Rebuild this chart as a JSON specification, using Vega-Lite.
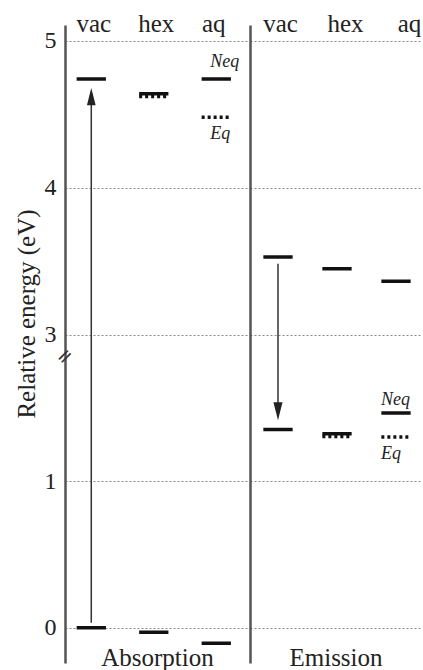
{
  "$schema": "https://vega.github.io/schema/vega-lite/v6.json",
  "autosize": {"type": "pad"},
  "padding": {"left": 14, "top": 11, "right": 0, "bottom": 0},
  "background": "white",
  "spacing": 0,
  "bounds": "flush",
  "config": {
    "view": {"stroke": null},
    "font": "Liberation Serif",
    "axis": {"labelFont": "Liberation Serif", "titleFont": "Liberation Serif", "labelColor": "#222", "titleColor": "#222"}
  },
  "datasets": {
    "levels": [
      {"panel": "Absorption", "env": "vac", "state": "single", "energy": 0},
      {"panel": "Absorption", "env": "vac", "state": "single", "energy": 4.74},
      {"panel": "Absorption", "env": "hex", "state": "single", "energy": -0.03},
      {"panel": "Absorption", "env": "hex", "state": "Neq", "energy": 4.64},
      {"panel": "Absorption", "env": "hex", "state": "Eq", "energy": 4.62},
      {"panel": "Absorption", "env": "aq", "state": "single", "energy": -0.105},
      {"panel": "Absorption", "env": "aq", "state": "Neq", "energy": 4.74},
      {"panel": "Absorption", "env": "aq", "state": "Eq", "energy": 4.48},
      {"panel": "Emission", "env": "vac", "state": "single", "energy": 3.528},
      {"panel": "Emission", "env": "vac", "state": "single", "energy": 1.354},
      {"panel": "Emission", "env": "hex", "state": "single", "energy": 3.449},
      {"panel": "Emission", "env": "hex", "state": "Neq", "energy": 1.324},
      {"panel": "Emission", "env": "hex", "state": "Eq", "energy": 1.305},
      {"panel": "Emission", "env": "aq", "state": "single", "energy": 3.364},
      {"panel": "Emission", "env": "aq", "state": "Neq", "energy": 1.466},
      {"panel": "Emission", "env": "aq", "state": "Eq", "energy": 1.302}
    ],
    "arrows": [
      {"panel": "Absorption", "env": "vac", "start": 0.035, "end": 4.575, "head": 4.62, "dir": "up"},
      {"panel": "Emission", "env": "vac", "start": 3.483, "end": 1.525, "head": 1.478, "dir": "down"}
    ],
    "breaks": [
      {"panel": "Absorption", "env": "vac", "energy": 2.35}
    ]
  },
  "hconcat": [
    {
      "width": 185,
      "height": 638,
      "title": {"text": "Absorption", "orient": "bottom", "anchor": "middle", "frame": "group", "font": "Liberation Serif", "fontSize": 25, "fontWeight": "normal", "baseline": "alphabetic", "offset": 3, "color": "#222"},
      "encoding": {
        "x": {
          "field": "env", "type": "nominal", "sort": ["vac", "hex", "aq"],
          "scale": {"type": "point", "domain": ["vac", "hex", "aq"], "padding": 0.48, "align": 0.438},
          "axis": {"orient": "top", "title": null, "domain": false, "ticks": false, "tickSize": 0, "grid": false, "labelAngle": 0, "labelFontSize": 25, "labelPadding": -6, "labelBaseline": "alphabetic",
            "labelOffset": {"condition": [{"test": "datum.value === 'aq'", "value": -3}], "value": 2}}
        },
        "y": {"field": "energy", "type": "quantitative",
          "scale": {"type": "linear", "domain": [-0.24, 1.85, 2.85, 5.107], "range": [638, 331.7, 331.7, 0], "zero": false, "nice": false},
          "axis": {"values": [0, 1, 3, 4, 5], "title": "Relative energy (eV)", "titleFontSize": 25, "titleFontWeight": "normal", "titleX": -39, "titleY": 288.5, "titleAngle": -90, "titleAlign": "center", "titleBaseline": "middle",
            "labelFontSize": 24, "labelPadding": 9, "ticks": false, "tickSize": 0, "domainColor": "#555", "domainWidth": 2.5,
            "grid": true, "gridDash": [2, 2], "gridColor": "#888", "gridWidth": 1}}
      },
      "layer": [
        {
          "data": {"name": "levels"},
          "transform": [{"filter": "datum.panel === 'Absorption'"}],
          "mark": {"type": "point", "shape": "M-1,0L1,0", "size": 858, "filled": false, "stroke": "#111", "strokeWidth": 3.5, "strokeCap": "butt", "opacity": 1},
          "encoding": {
            "strokeDash": {"field": "state", "type": "nominal", "scale": {"domain": ["single", "Neq", "Eq"], "range": [[1, 0], [1, 0], [3, 3]]}, "legend": null}
          }
        },
        {
          "data": {"name": "arrows"},
          "transform": [{"filter": "datum.panel === 'Absorption'"}, {"calculate": "datum.start", "as": "energy"}],
          "mark": {"type": "rule", "stroke": "#333", "strokeWidth": 1.5},
          "encoding": {
            "y2": {"field": "end"}
          }
        },
        {
          "data": {"name": "arrows"},
          "transform": [{"filter": "datum.panel === 'Absorption'"}, {"calculate": "datum.head", "as": "energy"}],
          "mark": {"type": "point", "filled": true, "color": "#222", "size": 300, "opacity": 1},
          "encoding": {
            "shape": {"field": "dir", "type": "nominal", "scale": {"domain": ["up", "down"], "range": ["M0,-1L0.5,1L-0.5,1Z", "M0,1L0.5,-1L-0.5,-1Z"]}, "legend": null}
          }
        },
        {
          "data": {"name": "levels"},
          "transform": [{"filter": "datum.panel === 'Absorption' && datum.env === 'aq' && datum.state === 'Neq'"}],
          "mark": {"type": "text", "align": "left", "baseline": "alphabetic", "dx": -6, "dy": -12, "font": "Liberation Serif", "fontStyle": "italic", "fontSize": 18, "color": "#222"},
          "encoding": {"text": {"field": "state"}}
        },
        {
          "data": {"name": "levels"},
          "transform": [{"filter": "datum.panel === 'Absorption' && datum.env === 'aq' && datum.state === 'Eq'"}],
          "mark": {"type": "text", "align": "left", "baseline": "alphabetic", "dx": -6, "dy": 22, "font": "Liberation Serif", "fontStyle": "italic", "fontSize": 18, "color": "#222"},
          "encoding": {"text": {"field": "state"}}
        },
        {
          "data": {"name": "breaks"},
          "mark": {"type": "text", "text": "=", "angle": -45, "xOffset": -26.3, "fontSize": 20, "font": "DejaVu Sans", "color": "#333", "align": "center", "baseline": "middle"}
        }
      ]
    },
    {
      "width": 172,
      "height": 638,
      "title": {"text": "Emission", "orient": "bottom", "anchor": "middle", "frame": "group", "font": "Liberation Serif", "fontSize": 25, "fontWeight": "normal", "baseline": "alphabetic", "offset": 3, "color": "#222"},
      "encoding": {
        "x": {
          "field": "env", "type": "nominal", "sort": ["vac", "hex", "aq"],
          "scale": {"type": "point", "domain": ["vac", "hex", "aq"], "padding": 0.4576, "align": 0.5185},
          "axis": {"orient": "top", "title": null, "domain": false, "ticks": false, "tickSize": 0, "grid": false, "labelAngle": 0, "labelFontSize": 25, "labelPadding": -6, "labelBaseline": "alphabetic",
            "labelOffset": {"condition": [{"test": "datum.value === 'hex'", "value": 8}, {"test": "datum.value === 'aq'", "value": 13}], "value": 2}}
        },
        "y": {"field": "energy", "type": "quantitative",
          "scale": {"type": "linear", "domain": [-0.24, 1.85, 2.85, 5.107], "range": [638, 331.7, 331.7, 0], "zero": false, "nice": false},
          "axis": {"values": [0, 1, 3, 4, 5], "title": null, "labels": false, "ticks": false, "tickSize": 0, "domainColor": "#555", "domainWidth": 2.5,
            "grid": true, "gridDash": [2, 2], "gridColor": "#888", "gridWidth": 1}}
      },
      "layer": [
        {
          "data": {"name": "levels"},
          "transform": [{"filter": "datum.panel === 'Emission'"}],
          "mark": {"type": "point", "shape": "M-1,0L1,0", "size": 858, "filled": false, "stroke": "#111", "strokeWidth": 3.5, "strokeCap": "butt", "opacity": 1},
          "encoding": {
            "strokeDash": {"field": "state", "type": "nominal", "scale": {"domain": ["single", "Neq", "Eq"], "range": [[1, 0], [1, 0], [3, 3]]}, "legend": null}
          }
        },
        {
          "data": {"name": "arrows"},
          "transform": [{"filter": "datum.panel === 'Emission'"}, {"calculate": "datum.start", "as": "energy"}],
          "mark": {"type": "rule", "stroke": "#333", "strokeWidth": 1.5},
          "encoding": {
            "y2": {"field": "end"}
          }
        },
        {
          "data": {"name": "arrows"},
          "transform": [{"filter": "datum.panel === 'Emission'"}, {"calculate": "datum.head", "as": "energy"}],
          "mark": {"type": "point", "filled": true, "color": "#222", "size": 330, "opacity": 1},
          "encoding": {
            "shape": {"field": "dir", "type": "nominal", "scale": {"domain": ["up", "down"], "range": ["M0,-1L0.5,1L-0.5,1Z", "M0,1L0.5,-1L-0.5,-1Z"]}, "legend": null}
          }
        },
        {
          "data": {"name": "levels"},
          "transform": [{"filter": "datum.panel === 'Emission' && datum.env === 'aq' && datum.state === 'Neq'"}],
          "mark": {"type": "text", "align": "left", "baseline": "alphabetic", "dx": -15, "dy": -8, "font": "Liberation Serif", "fontStyle": "italic", "fontSize": 18, "color": "#222"},
          "encoding": {"text": {"field": "state"}}
        },
        {
          "data": {"name": "levels"},
          "transform": [{"filter": "datum.panel === 'Emission' && datum.env === 'aq' && datum.state === 'Eq'"}],
          "mark": {"type": "text", "align": "left", "baseline": "alphabetic", "dx": -15, "dy": 22, "font": "Liberation Serif", "fontStyle": "italic", "fontSize": 18, "color": "#222"},
          "encoding": {"text": {"field": "state"}}
        }
      ]
    }
  ]
}
